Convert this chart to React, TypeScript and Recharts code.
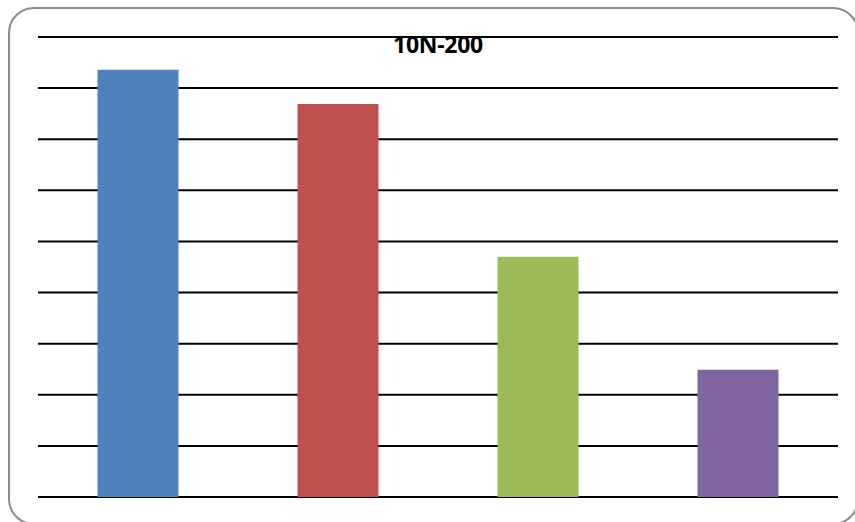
import React from "react";
import { BarChart, Bar, XAxis, YAxis, CartesianGrid, Cell } from "recharts";

const categories = ["A", "B", "C", "D"];
const values = [8.36, 7.69, 4.7, 2.49];
const colors = ["#4F81BD", "#C0504D", "#9BBB59", "#8064A2"];
const yTicks = [0, 1, 2, 3, 4, 5, 6, 7, 8, 9];
const title = "10N-200";

const data = categories.map((c, i) => ({ name: c, value: values[i] }));

export default function App() {
  return (
    <div
      style={{
        position: "absolute",
        left: 0,
        top: 0,
        width: 855,
        height: 522,
        overflow: "hidden",
        background: "#fff",
      }}
    >
      <div
        style={{
          position: "absolute",
          left: 8,
          top: 7,
          width: 851,
          height: 518,
          border: "2px solid #8c8c8c",
          borderRadius: 26,
          boxSizing: "border-box",
        }}
      />
      <div style={{ position: "absolute", left: 0, top: 0 }}>
        <BarChart
          width={855}
          height={522}
          data={data}
          margin={{ top: 37, right: 17, bottom: 25, left: 38 }}
          barCategoryGap="29.75%"
        >
          <CartesianGrid vertical={false} stroke="#000" strokeWidth={2} />
          <XAxis dataKey="name" hide />
          <YAxis hide domain={[0, 9]} ticks={yTicks} type="number" />
          <Bar dataKey="value" isAnimationActive={false}>
            {data.map((d, i) => (
              <Cell key={d.name} fill={colors[i]} />
            ))}
          </Bar>
        </BarChart>
      </div>
      <div
        style={{
          position: "absolute",
          left: 338,
          width: 200,
          top: 29,
          textAlign: "center",
          fontFamily: "'Open Sans', sans-serif",
          fontWeight: 700,
          fontSize: 23,
          lineHeight: "31px",
          letterSpacing: "-0.3px",
          color: "#000",
        }}
      >
        {title}
      </div>
    </div>
  );
}
